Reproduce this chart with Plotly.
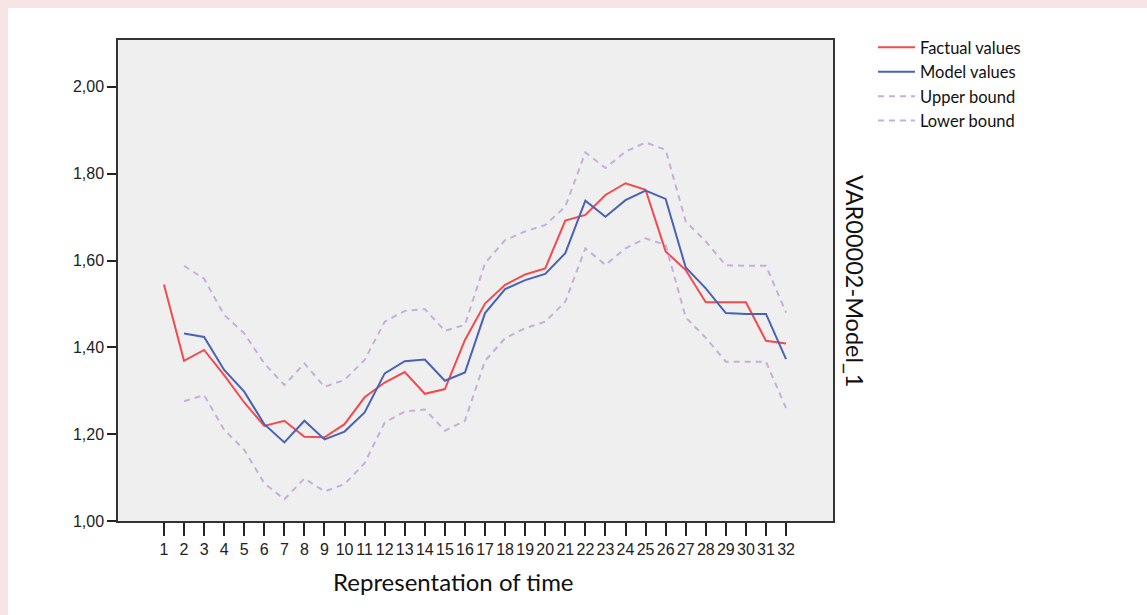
import plotly.graph_objects as go

time_points = list(range(1, 33))
tick_labels = [str(i) for i in time_points]

factual = [1.545, 1.369, 1.394, 1.336, 1.273, 1.219, 1.231, 1.194, 1.193, 1.223,
           1.285, 1.319, 1.343, 1.293, 1.304, 1.417, 1.501, 1.544, 1.568, 1.582,
           1.692, 1.705, 1.751, 1.778, 1.763, 1.621, 1.578, 1.504, 1.504, 1.504,
           1.415, 1.409]

model = [None, 1.432, 1.424, 1.348, 1.298, 1.223, 1.181, 1.231, 1.188, 1.206,
         1.250, 1.340, 1.368, 1.372, 1.323, 1.342, 1.479, 1.534, 1.555, 1.569,
         1.617, 1.738, 1.701, 1.739, 1.761, 1.742, 1.584, 1.536, 1.479, 1.477,
         1.477, 1.373]

upper = [None, 1.588, 1.558, 1.475, 1.432, 1.363, 1.313, 1.363, 1.309, 1.325,
         1.371, 1.459, 1.484, 1.488, 1.438, 1.452, 1.594, 1.647, 1.667, 1.682,
         1.724, 1.849, 1.813, 1.851, 1.872, 1.855, 1.690, 1.644, 1.589, 1.588,
         1.588, 1.480]

lower = [None, 1.276, 1.290, 1.210, 1.164, 1.087, 1.050, 1.098, 1.068, 1.085,
         1.133, 1.227, 1.252, 1.257, 1.208, 1.231, 1.369, 1.421, 1.444, 1.459,
         1.505, 1.628, 1.590, 1.628, 1.651, 1.636, 1.469, 1.422, 1.367, 1.367,
         1.367, 1.260]

y_ticks = [1.0, 1.2, 1.4, 1.6, 1.8, 2.0]

RED = "#f24a4f"
BLUE = "#4a62b6"
LAV = "#c6afdc"

fig = go.Figure()
fig.add_trace(go.Scatter(x=time_points, y=factual, mode="lines", name="Factual values",
                         line=dict(color=RED, width=2)))
fig.add_trace(go.Scatter(x=time_points, y=model, mode="lines", name="Model values",
                         line=dict(color=BLUE, width=2)))
fig.add_trace(go.Scatter(x=time_points, y=upper, mode="lines", name="Upper bound",
                         line=dict(color=LAV, width=2, dash="6px,5px")))
fig.add_trace(go.Scatter(x=time_points, y=lower, mode="lines", name="Lower bound",
                         line=dict(color=LAV, width=2, dash="6px,5px")))

# body margin removed; coordinates below are page pixels
W, H = 1147, 615
L, T = 118, 40
plot_right, plot_bottom = 833, 521
R, B = W - plot_right, H - plot_bottom
pw, ph = W - L - R, H - T - B

def px_x(x):
    return (x - L) / pw

def px_y(y):
    return (H - B - y) / ph

PINK = "#f7e5e6"
fig.add_shape(type="rect", xref="paper", yref="paper",
              x0=px_x(0), x1=px_x(W), y0=px_y(0), y1=px_y(8),
              fillcolor=PINK, line=dict(width=0), layer="below")
fig.add_shape(type="rect", xref="paper", yref="paper",
              x0=px_x(0), x1=px_x(8), y0=px_y(0), y1=px_y(H),
              fillcolor=PINK, line=dict(width=0), layer="below")

fig.add_annotation(text="VAR00002-Model_1", xref="paper", yref="paper",
                   x=px_x(855), y=px_y(281), textangle=90, showarrow=False,
                   font=dict(family="Lato", size=23.5, color="#111"),
                   xanchor="center", yanchor="middle")
fig.add_annotation(text="Representation of time", xref="paper", yref="paper",
                   x=px_x(453), y=px_y(581), showarrow=False,
                   font=dict(family="Lato", size=24, color="#111"),
                   xanchor="center", yanchor="middle")

fig.update_layout(
    width=W, height=H,
    margin=dict(l=L, r=R, t=T, b=B, autoexpand=False),
    paper_bgcolor="white",
    plot_bgcolor="#efefef",
    separators=",.",
    showlegend=True,
    legend=dict(x=px_x(873), y=px_y(30), xanchor="left", yanchor="top",
                font=dict(family="Lato", size=16.5, color="#111"),
                bgcolor="rgba(0,0,0,0)", itemwidth=37, tracegroupgap=0),
    xaxis=dict(range=[-1.29, 34.34], tickmode="array", tickvals=time_points,
               ticktext=tick_labels, ticks="outside", ticklen=13, tickwidth=1.5,
               tickcolor="#222", showgrid=False, zeroline=False,
               showline=True, linecolor="#333", linewidth=1.5, mirror=True,
               tickfont=dict(family="Liberation Sans", size=16, color="#222")),
    yaxis=dict(range=[1.0, 2.108], tickmode="array", tickvals=y_ticks,
               tickformat=".2f", ticks="outside", ticklen=9, tickwidth=1.5,
               tickcolor="#222", showgrid=False, zeroline=False,
               showline=True, linecolor="#333", linewidth=1.5, mirror=True,
               tickfont=dict(family="Liberation Sans", size=16, color="#222")),
)

fig.write_html("out.html",
               config={"displayModeBar": False},
               post_script="document.body.style.margin='0';"
                           "document.body.style.overflow='hidden';")
